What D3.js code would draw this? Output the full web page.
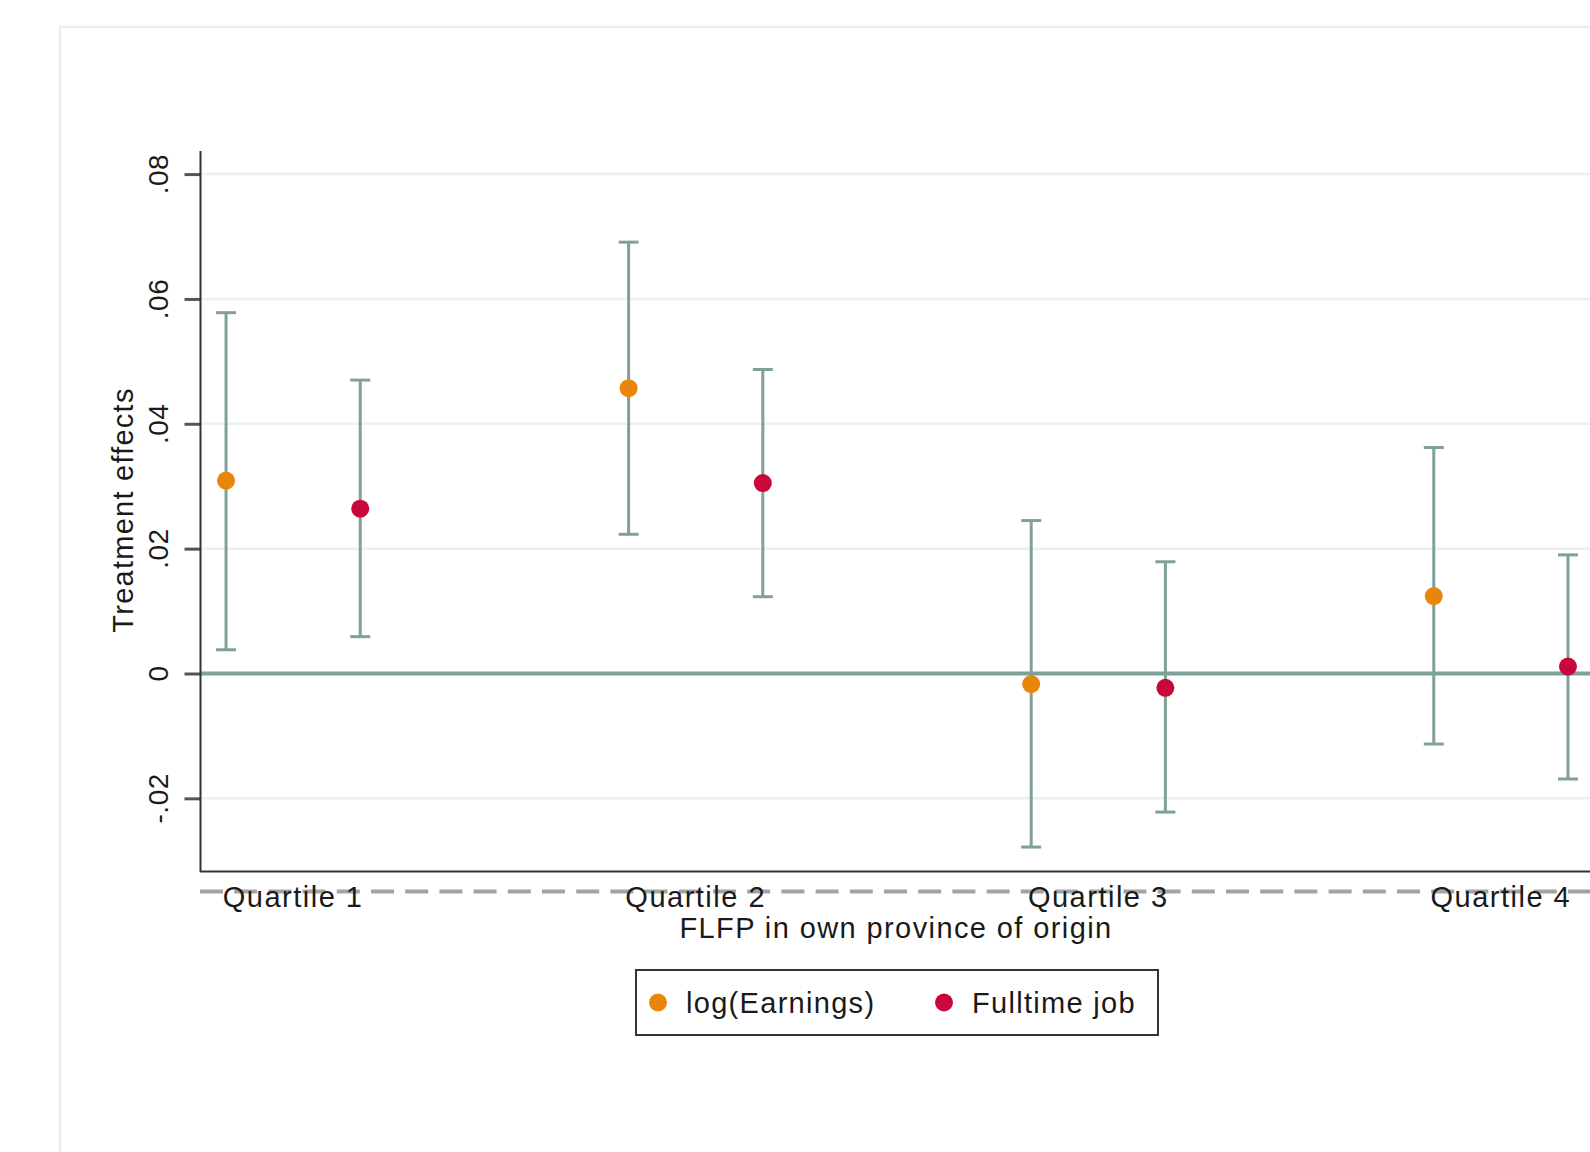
<!DOCTYPE html>
<html>
<head>
<meta charset="utf-8">
<script src="https://cdn.jsdelivr.net/npm/d3@7"></script>
<style>
  html, body { margin: 0; padding: 0; background: #fff; overflow: hidden; }
  svg { display: block; font-family: "Liberation Sans", Arial, sans-serif; }
</style>
</head>
<body>
<div id="chart"></div>
<script>
// chart data
var quartiles = ["Quartile 1", "Quartile 2", "Quartile 3", "Quartile 4"];
var seriesNames = ["log(Earnings)", "Fulltime job"];
var earningsEst = [0.0309, 0.0457, -0.0017, 0.0124];
var earningsLo = [0.0038, 0.0223, -0.0278, -0.0113];
var earningsHi = [0.0578, 0.0691, 0.0245, 0.0362];
var fulltimeEst = [0.0264, 0.0305, -0.0023, 0.0011];
var fulltimeLo = [0.0059, 0.0123, -0.0222, -0.0169];
var fulltimeHi = [0.0470, 0.0487, 0.0179, 0.0190];
var yTicks = [-0.02, 0, 0.02, 0.04, 0.06, 0.08];
var yTickLabels = ["-.02", "0", ".02", ".04", ".06", ".08"];

var svgWidth = 1590;
var svgHeight = 1152;

var colors = ["#e8860c", "#c8083a"];
var ciColor = "#80a198";

var svg = d3.select("#chart")
  .append("svg")
  .attr("width", svgWidth)
  .attr("height", svgHeight);

// outer graph frame (runs past the crop on the right and bottom)
svg.append("rect")
  .attr("x", 60).attr("y", 27)
  .attr("width", 1700).attr("height", 1300)
  .attr("fill", "#fff")
  .attr("stroke", "#e6f0f1")
  .attr("stroke-width", 2.5);

// build rows: one per quartile and series
var rows = [];
quartiles.forEach(function(q, i) {
  rows.push({q: i, s: 0, est: earningsEst[i], lo: earningsLo[i], hi: earningsHi[i]});
  rows.push({q: i, s: 1, est: fulltimeEst[i], lo: fulltimeLo[i], hi: fulltimeHi[i]});
});

// positions: three slots per quartile, the third left empty
var xScale = d3.scaleLinear()
  .domain([-0.194, 10.194])
  .range([200, 1594]);

var yScale = d3.scaleLinear()
  .domain([-0.0318, 0.0837])
  .range([872, 151]);

var plotRight = 1600;

// gridlines
svg.append("g")
  .selectAll("line")
  .data(yTicks.filter(function(t) { return t !== 0; }))
  .enter()
  .append("line")
  .attr("x1", 201).attr("x2", plotRight)
  .attr("y1", d => yScale(d)).attr("y2", d => yScale(d))
  .attr("stroke", "#e9f1f2")
  .attr("stroke-width", 2.5);

// zero line
svg.append("line")
  .attr("x1", 201).attr("x2", plotRight)
  .attr("y1", yScale(0)).attr("y2", yScale(0))
  .attr("stroke", ciColor)
  .attr("stroke-width", 4);

// y axis
var leftAxis = d3.axisLeft(yScale)
  .tickValues(yTicks)
  .tickSize(16)
  .tickFormat("");

var yAxisG = svg.append("g")
  .attr("transform", "translate(200.5,0)")
  .call(leftAxis);
yAxisG.select(".domain").remove();
yAxisG.selectAll(".tick line")
  .attr("stroke", "#555")
  .attr("stroke-width", 3);

svg.append("line")
  .attr("x1", 200.5).attr("x2", 200.5)
  .attr("y1", 151).attr("y2", 872)
  .attr("stroke", "#333")
  .attr("stroke-width", 2);

// rotated tick labels
svg.append("g")
  .selectAll("text")
  .data(yTicks)
  .enter()
  .append("text")
  .attr("transform", d => `translate(168,${yScale(d)}) rotate(-90)`)
  .attr("text-anchor", "middle")
  .attr("font-size", 28)
  .attr("letter-spacing", 0.5)
  .attr("fill", "#1a1a1a")
  .text((d, i) => yTickLabels[i]);

// y title
svg.append("text")
  .attr("transform", `translate(133,510) rotate(-90)`)
  .attr("text-anchor", "middle")
  .attr("font-size", 29)
  .attr("letter-spacing", 1.25)
  .attr("fill", "#1a1a1a")
  .text("Treatment effects");

// bottom axis line
svg.append("line")
  .attr("x1", 200).attr("x2", plotRight)
  .attr("y1", 871.5).attr("y2", 871.5)
  .attr("stroke", "#333")
  .attr("stroke-width", 2);

// dashed line through the quartile labels
svg.append("line")
  .attr("x1", 200).attr("x2", plotRight)
  .attr("y1", 891.5).attr("y2", 891.5)
  .attr("stroke", "#a3a3a3")
  .attr("stroke-width", 4)
  .attr("stroke-dasharray", "23 11.2")
  .attr("stroke-dashoffset", 0);

// quartile labels
svg.append("g")
  .selectAll("text")
  .data(quartiles)
  .enter()
  .append("text")
  .attr("x", (d, i) => xScale(i * 3 + 0.5))
  .attr("y", 906.5)
  .attr("text-anchor", "middle")
  .attr("font-size", 29)
  .attr("letter-spacing", 1.5)
  .attr("fill", "#1a1a1a")
  .text(d => d);

// x title
svg.append("text")
  .attr("x", 896)
  .attr("y", 937.5)
  .attr("text-anchor", "middle")
  .attr("font-size", 29)
  .attr("letter-spacing", 1.4)
  .attr("fill", "#1a1a1a")
  .text("FLFP in own province of origin");

// error bars
var bars = svg.append("g")
  .selectAll("g")
  .data(rows)
  .enter()
  .append("g")
  .attr("transform", d => `translate(${xScale(d.q * 3 + d.s)},0)`);

bars.append("line")
  .attr("y1", d => yScale(d.lo)).attr("y2", d => yScale(d.hi))
  .attr("stroke", ciColor)
  .attr("stroke-width", 3);

bars.append("line")
  .attr("x1", -10).attr("x2", 10)
  .attr("y1", d => yScale(d.hi)).attr("y2", d => yScale(d.hi))
  .attr("stroke", ciColor)
  .attr("stroke-width", 3);

bars.append("line")
  .attr("x1", -10).attr("x2", 10)
  .attr("y1", d => yScale(d.lo)).attr("y2", d => yScale(d.lo))
  .attr("stroke", ciColor)
  .attr("stroke-width", 3);

bars.append("circle")
  .attr("cy", d => yScale(d.est))
  .attr("r", 9)
  .attr("fill", d => colors[d.s]);

// legend
var legend = svg.append("g");
legend.append("rect")
  .attr("x", 636).attr("y", 970)
  .attr("width", 522).attr("height", 65)
  .attr("fill", "#fff")
  .attr("stroke", "#333")
  .attr("stroke-width", 2);

var legendX = [658, 944];
var items = legend.selectAll("g.item")
  .data(seriesNames)
  .enter()
  .append("g")
  .attr("class", "item")
  .attr("transform", (d, i) => `translate(${legendX[i]},1002.5)`);

items.append("circle")
  .attr("r", 9)
  .attr("fill", (d, i) => colors[i]);

items.append("text")
  .attr("x", 28)
  .attr("y", 10.5)
  .attr("font-size", 29)
  .attr("letter-spacing", 1.3)
  .attr("fill", "#1a1a1a")
  .text(d => d);
</script>
</body>
</html>
